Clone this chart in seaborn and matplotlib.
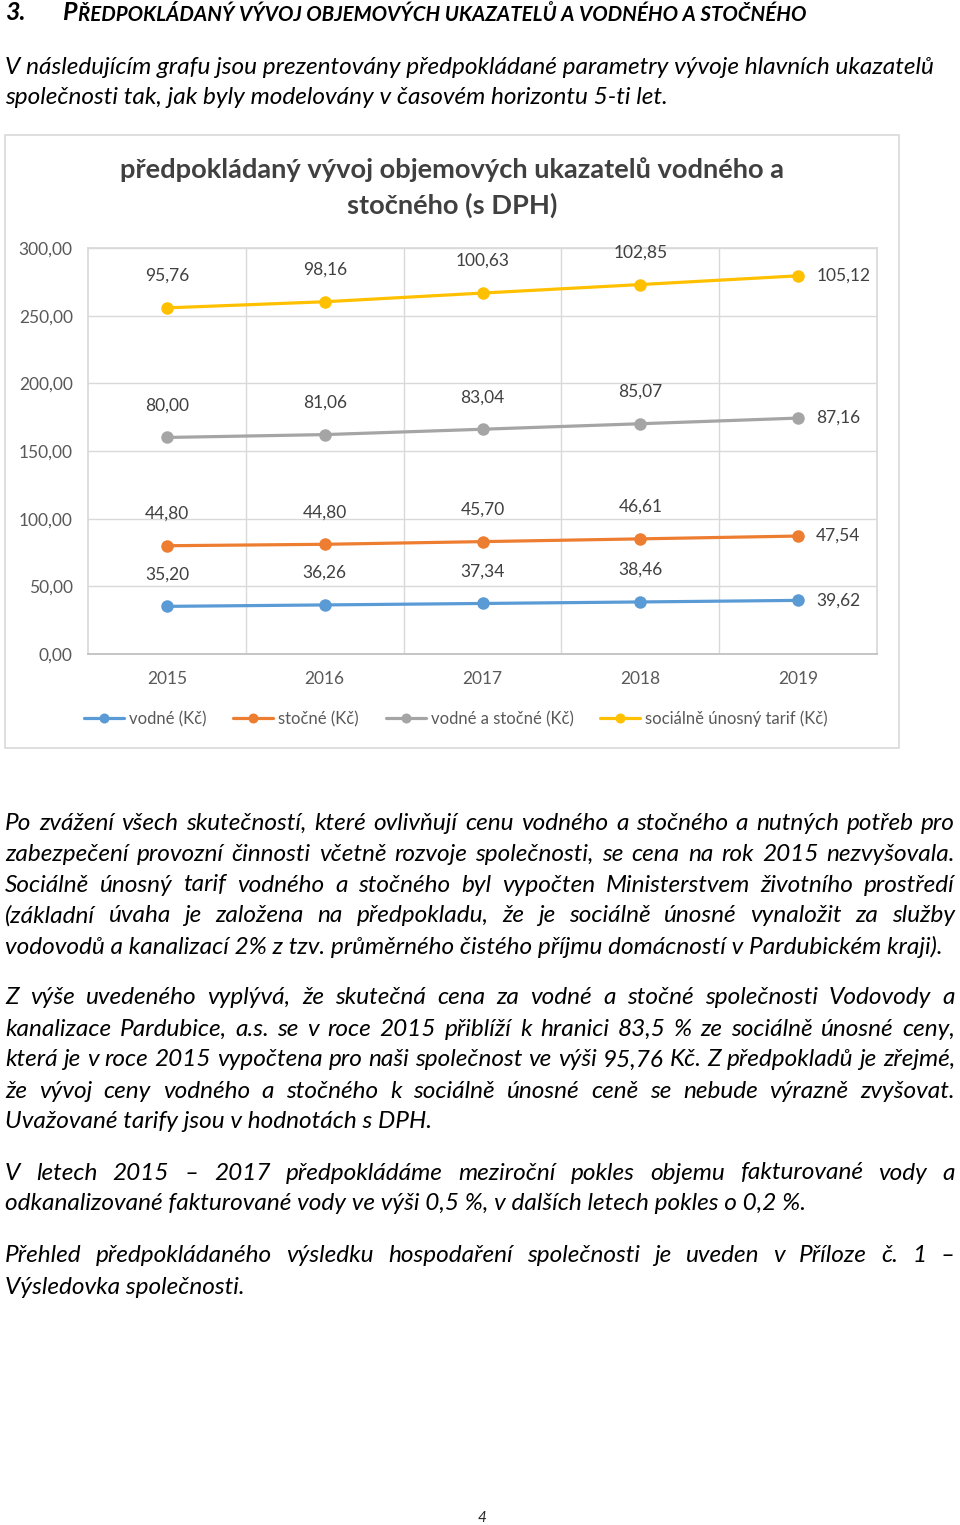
import pandas as pd
import matplotlib
matplotlib.use("Agg")
import matplotlib.pyplot as plt
import seaborn as sns
from matplotlib.patches import Rectangle
from matplotlib.ticker import FuncFormatter, MultipleLocator

# Data
years = [2015, 2016, 2017, 2018, 2019]
vodne = [35.20, 36.26, 37.34, 38.46, 39.62]
stocne = [44.80, 44.80, 45.70, 46.61, 47.54]
vodne_stocne = [80.00, 81.06, 83.04, 85.07, 87.16]
tarif = [95.76, 98.16, 100.63, 102.85, 105.12]

names = ["vodné (Kč)", "stočné (Kč)", "vodné a stočné (Kč)", "sociálně únosný tarif (Kč)"]
colors = ["#5B9BD5", "#ED7D31", "#A5A5A5", "#FFC000"]

W, H = 960, 1525

sns.set_theme(style="white")
plt.rcParams["font.family"] = ["Lato", "DejaVu Sans"]

fig = plt.figure(figsize=(W / 100, H / 100), dpi=100)
renderer = fig.canvas.get_renderer()


def fx(x):
    return x / W


def fy(y):
    return 1 - y / H


def text_width(s, **kw):
    t = fig.text(0, 0, s, **kw)
    w = t.get_window_extent(renderer).width
    t.remove()
    return w


# Heading (small caps look: big first letter, smaller rest)
head_kw = dict(fontweight="bold", fontstyle="italic", color="black", va="center")
fig.text(fx(5), fy(13), "3.", fontsize=18, **head_kw)
fig.text(fx(62), fy(13), "P", fontsize=18, **head_kw)
pw = text_width("P", fontsize=18, **head_kw)
fig.text(fx(62 + pw + 1), fy(15), "ŘEDPOKLÁDANÝ VÝVOJ OBJEMOVÝCH UKAZATELŮ A VODNÉHO A STOČNÉHO",
         fontsize=14.8, **head_kw)

p1 = ["V následujícím grafu jsou prezentovány předpokládané parametry vývoje hlavních ukazatelů",
      "společnosti tak, jak byly modelovány v časovém horizontu 5-ti let."]
p2 = ["Po zvážení všech skutečností, které ovlivňují cenu vodného a stočného a nutných potřeb pro",
      "zabezpečení provozní činnosti včetně rozvoje společnosti, se cena na rok 2015 nezvyšovala.",
      "Sociálně únosný tarif vodného a stočného byl vypočten Ministerstvem životního prostředí",
      "(základní úvaha je založena na předpokladu, že je sociálně únosné vynaložit za služby",
      "vodovodů a kanalizací 2% z tzv. průměrného čistého příjmu domácností v Pardubickém kraji)."]
p3 = ["Z výše uvedeného vyplývá, že skutečná cena za vodné a stočné společnosti Vodovody a",
      "kanalizace Pardubice, a.s. se v roce 2015 přiblíží k hranici 83,5 % ze sociálně únosné ceny,",
      "která je v roce 2015 vypočtena pro naši společnost ve výši 95,76 Kč. Z předpokladů je zřejmé,",
      "že vývoj ceny vodného a stočného k sociálně únosné ceně se nebude výrazně zvyšovat.",
      "Uvažované tarify jsou v hodnotách s DPH."]
p4 = ["V letech 2015 – 2017 předpokládáme meziroční pokles objemu fakturované vody a",
      "odkanalizované fakturované vody ve výši 0,5 %, v dalších letech pokles o 0,2 %."]
p5 = ["Přehled předpokládaného výsledku hospodaření společnosti je uveden v Příloze č. 1 –",
      "Výsledovka společnosti."]

# fit body font so the last line of paragraph 2 is as wide as in the page
base = text_width(p2[-1], fontsize=10, fontstyle="italic")
body_size = 10 * 940 / base
body_kw = dict(fontsize=body_size, fontstyle="italic", color="black", va="center")


def paragraph(lines, y0, justify=True, step=31, x0=5, x1=955):
    for i, line in enumerate(lines):
        y = y0 + i * step
        last = i == len(lines) - 1
        if not justify or last:
            fig.text(fx(x0), fy(y), line, **body_kw)
            continue
        words = line.split(" ")
        widths = [text_width(w, **body_kw) for w in words]
        gap = (x1 - x0 - sum(widths)) / (len(words) - 1)
        x = x0
        for w, wd in zip(words, widths):
            fig.text(fx(x), fy(y), w, **body_kw)
            x += wd + gap


paragraph(p1, 67, justify=False)
paragraph(p2, 823)
paragraph(p3, 998)
paragraph(p4, 1173)
paragraph(p5, 1256)

fig.text(fx(482), fy(1518), "4", fontsize=11, fontstyle="italic", ha="center", va="center")

# Chart frame
fig.patches.append(Rectangle((fx(5), fy(748)), fx(894), (748 - 135) / H,
                             transform=fig.transFigure, fill=False,
                             edgecolor="#D9D9D9", linewidth=1.2))

fig.text(fx(452), fy(170), "předpokládaný vývoj objemových ukazatelů vodného a",
         fontsize=19.6, fontweight="bold", color="#404040", ha="center", va="center")
fig.text(fx(452), fy(205), "stočného (s DPH)",
         fontsize=19.6, fontweight="bold", color="#404040", ha="center", va="center")

# Stacked line chart
df = pd.DataFrame({"rok": years, names[0]: vodne, names[1]: stocne,
                   names[2]: vodne_stocne, names[3]: tarif})
stacked = df[names].cumsum(axis=1)
stacked["rok"] = years
long = stacked.melt(id_vars="rok", var_name="serie", value_name="kumul")
raw = df.melt(id_vars="rok", var_name="serie", value_name="hodnota")
long["hodnota"] = raw["hodnota"]

ax = fig.add_axes([fx(88), fy(654), 789 / W, 406 / H])
sns.lineplot(data=long, x="rok", y="kumul", hue="serie", hue_order=names,
             palette=colors, marker="o", markersize=9, markeredgewidth=0,
             linewidth=2.3, ax=ax)

ax.set_xlim(years[0] - 0.5, years[-1] + 0.5)
ax.set_ylim(0, 300)
ax.yaxis.set_major_locator(MultipleLocator(50))
ax.yaxis.set_major_formatter(FuncFormatter(lambda v, _: f"{v:.2f}".replace(".", ",")))
ax.set_xticks(years)
ax.set_xticks([y + 0.5 for y in years[:-1]], minor=True)
ax.grid(axis="y", which="major", color="#D9D9D9", linewidth=1)
ax.grid(axis="x", which="minor", color="#D9D9D9", linewidth=1)
ax.set_axisbelow(True)
ax.tick_params(axis="both", which="both", length=0, labelsize=12.5, labelcolor="#595959")
ax.tick_params(axis="y", pad=11)
ax.tick_params(axis="x", pad=12)
ax.set_xlabel("")
ax.set_ylabel("")
for s in ax.spines.values():
    s.set_color("#D9D9D9")
ax.spines["bottom"].set_color("#BFBFBF")

for _, r in long.iterrows():
    lab = f"{r['hodnota']:.2f}".replace(".", ",")
    if r["rok"] == years[-1]:
        ax.annotate(lab, (r["rok"], r["kumul"]), xytext=(13, 0), textcoords="offset points",
                    ha="left", va="center", fontsize=12.5, color="#404040")
    else:
        ax.annotate(lab, (r["rok"], r["kumul"]), xytext=(0, 23), textcoords="offset points",
                    ha="center", va="center", fontsize=12.5, color="#404040")

handles, labels = ax.get_legend_handles_labels()
ax.get_legend().remove()
fig.legend(handles, labels, loc="center", bbox_to_anchor=(fx(456), fy(719)), ncol=4,
           frameon=False, fontsize=12, labelcolor="#595959", handlelength=2.4,
           handletextpad=0.3, columnspacing=1.6, markerscale=0.8)

fig.savefig("out.png", dpi=100, facecolor="white")
